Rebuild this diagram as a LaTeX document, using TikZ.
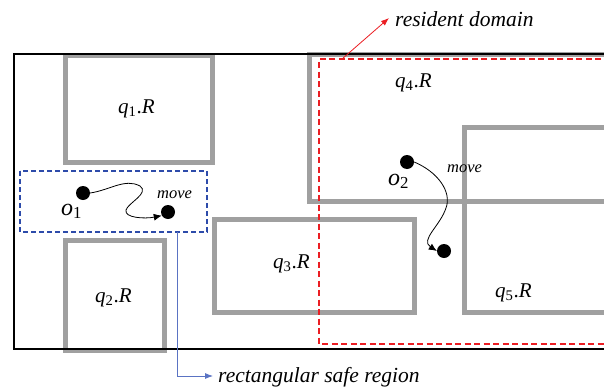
\documentclass[tikz,border=0pt]{standalone}
\usepackage{fontspec}
\setmainfont{Liberation Serif}
\usetikzlibrary{arrows.meta}
\definecolor{regiongray}{RGB}{160,160,160}
\definecolor{safeblue}{RGB}{45,75,170}
\definecolor{leadblue}{RGB}{90,115,195}
\definecolor{domainred}{RGB}{235,30,35}

\begin{document}
\begin{tikzpicture}[
    x=1pt, y=-1pt,
    region/.style={draw=regiongray, line width=5pt},
    qlabel/.style={anchor=base west, inner sep=0pt, font=\fontsize{21}{25}\selectfont},
    olabel/.style={anchor=base west, inner sep=0pt, font=\fontsize{24}{28}\selectfont},
    movelabel/.style={anchor=base west, inner sep=0pt, font=\fontsize{16.5}{20}\selectfont\itshape},
    note/.style={anchor=base west, inner sep=0pt, font=\fontsize{21.5}{25}\selectfont\itshape},
    obj/.style={circle, fill=black, minimum size=14pt, inner sep=0pt},
    movearrow/.style={-{Latex[length=8pt,width=7pt]}, line width=0.8pt},
    leader/.style={-{Latex[length=8pt,width=6pt]}, line width=0.8pt}
]
\useasboundingbox (0,0) rectangle (604,388);
\clip (0,0) rectangle (604,388);
\draw[region] (65,55) rectangle (212,162);
\draw[region] (65,240) rectangle (164,350);
\draw[region] (214,219) rectangle (414,312);
\draw[region] (309,54) rectangle (620,201);
\draw[region] (464,127) rectangle (620,312);
\draw[line width=2pt] (620,53.5) -- (14,53.5) -- (14,348.5) -- (620,348.5);
\draw[domainred, line width=2.2pt, dash pattern=on 6pt off 3.5pt] (620,59) -- (319,59) -- (319,344) -- (620,344);
\draw[safeblue, line width=2pt, dash pattern=on 5pt off 3pt] (20,171) rectangle (207,232);
\node[qlabel] (q1) at (118,113) {\textit{q}\textsubscript{1}.\textit{R}};
\node[qlabel] (q2) at (95,302) {\textit{q}\textsubscript{2}.\textit{R}};
\node[qlabel] (q3) at (273,268) {\textit{q}\textsubscript{3}.\textit{R}};
\node[qlabel] (q4) at (395,87) {\textit{q}\textsubscript{4}.\textit{R}};
\node[qlabel] (q5) at (495,297) {\textit{q}\textsubscript{5}.\textit{R}};
\node[obj] (o1) at (83,193) {};
\node[obj] (m1) at (168,212) {};
\node[olabel] (o1text) at (61,215) {\textit{o}\textsubscript{1}};
\node[movelabel] (move1) at (157,198) {move};
\draw[movearrow] (o1.east) .. controls (110,190) and (125,178) .. (140,186)
    .. controls (150,193) and (128,203) .. (126,210)
    .. controls (124,218) and (145,219) .. (m1.210);
\node[obj] (o2) at (407,162) {};
\node[obj] (m2) at (444,251) {};
\node[olabel] (o2text) at (388,185) {\textit{o}\textsubscript{2}};
\node[movelabel] (move2) at (447,172) {move};
\draw[movearrow] (o2.east) .. controls (438,172) and (452,192) .. (446,208)
    .. controls (440,226) and (420,240) .. (m2.west);
\coordinate (safecorner) at (177,232);
\node[note] (safe) at (218,382) {rectangular safe region};
\draw[leader, leadblue] (safecorner) |- ([xshift=-5pt,yshift=6pt]safe.base west);
\coordinate (domaincorner) at (342,59);
\node[note] (domain) at (395,26) {resident domain};
\draw[leader, domainred] (domaincorner) -- ([xshift=-6pt,yshift=8pt]domain.base west);
\end{tikzpicture}
\end{document}
